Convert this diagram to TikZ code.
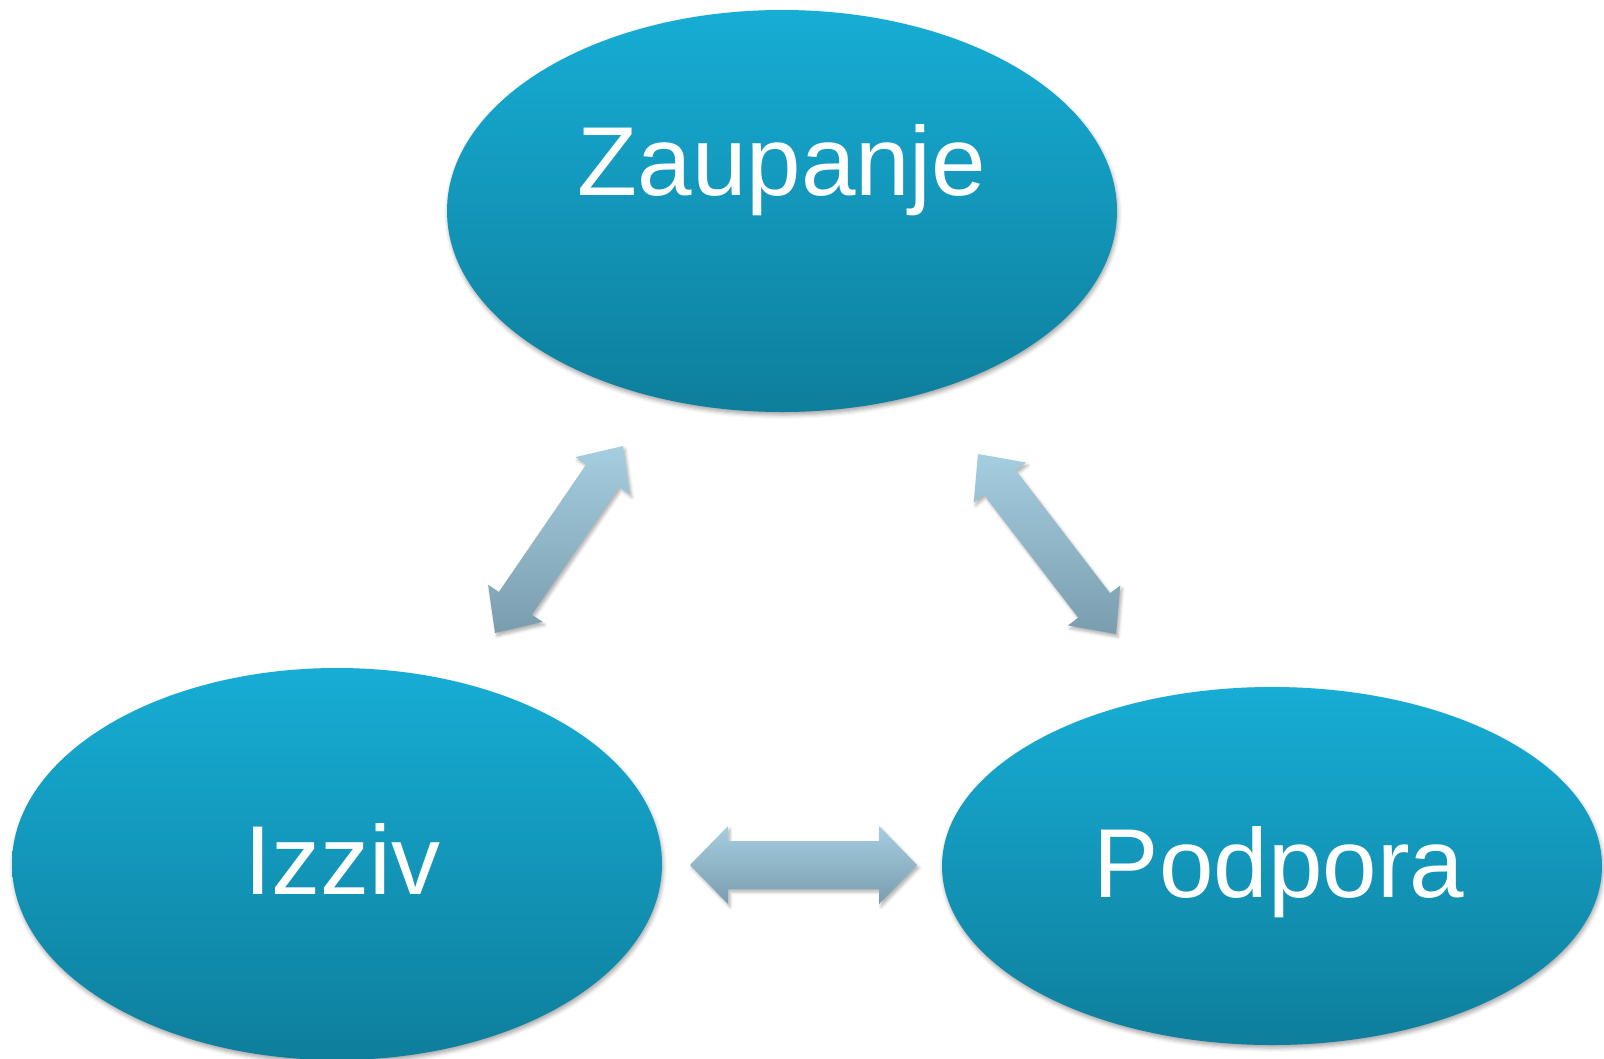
\documentclass[tikz,border=0pt]{standalone}
\usepackage{fontspec}
\setmainfont{Liberation Sans}
\usetikzlibrary{shapes.geometric,shadows.blur}
\definecolor{elltop}{RGB}{23,173,213}
\definecolor{ellbot}{RGB}{14,126,156}
\definecolor{arrtop}{RGB}{165,206,224}
\definecolor{arrbot}{RGB}{122,157,174}
\tikzset{
  bubble/.style={ellipse, draw=none, inner sep=0pt, top color=elltop, bottom color=ellbot,
    blur shadow={shadow xshift=1pt, shadow yshift=-3pt, shadow blur radius=4pt, shadow opacity=35}},
  bubbletext/.style={anchor=base, text=white, font=\fontsize{98}{110}\selectfont, inner sep=0pt},
  dblarrow/.style={draw=none, top color=arrtop, bottom color=arrbot,
    blur shadow={shadow xshift=2pt, shadow yshift=-3pt, shadow blur radius=3pt, shadow opacity=30}}
}
\begin{document}
\begin{tikzpicture}[x=1pt,y=-1pt]
\useasboundingbox (0,0) rectangle (1604,1058);
% ellipses
\node[bubble, minimum width=670pt, minimum height=402pt] (zau) at (782,211) {};
\node[bubble, minimum width=650pt, minimum height=392pt] (izz) at (337,864) {};
\node[bubble, minimum width=660pt, minimum height=358pt] (pod) at (1272,866) {};
% texts
\node[bubbletext] (tzau) at (782,195) {Zaupanje};
\node[bubbletext] (tizz) at (342,894) {Izziv};
\node[bubbletext] (tpod) at (1279,897) {Podpora};
% arrow endpoints
\coordinate (a1s) at (495,633); \coordinate (a1e) at (623,446);
\coordinate (a2s) at (978,454); \coordinate (a2e) at (1116,634);
\coordinate (a3s) at (690,865); \coordinate (a3e) at (917,865);
% Izziv <-> Zaupanje
\path[dblarrow] (a1s) -- (542.5,621.9) -- (531.8,614.6) -- (619.2,487.0) -- (629.9,494.3)
  -- (a1e) -- (575.5,457.1) -- (586.2,464.4) -- (498.8,592.0) -- (488.1,584.7) -- cycle;
% Zaupanje <-> Podpora
\path[dblarrow] (a2s) -- (1026.1,462.5) -- (1015.8,470.4) -- (1110.0,593.2) -- (1120.3,585.3)
  -- (a2e) -- (1067.9,625.5) -- (1078.2,617.6) -- (984.0,494.8) -- (973.7,502.7) -- cycle;
% Izziv <-> Podpora
\path[dblarrow] (a3s) -- (728,826) -- (728,841) -- (879,841) -- (879,826)
  -- (a3e) -- (879,904) -- (879,889) -- (728,889) -- (728,904) -- cycle;
\end{tikzpicture}
\end{document}
